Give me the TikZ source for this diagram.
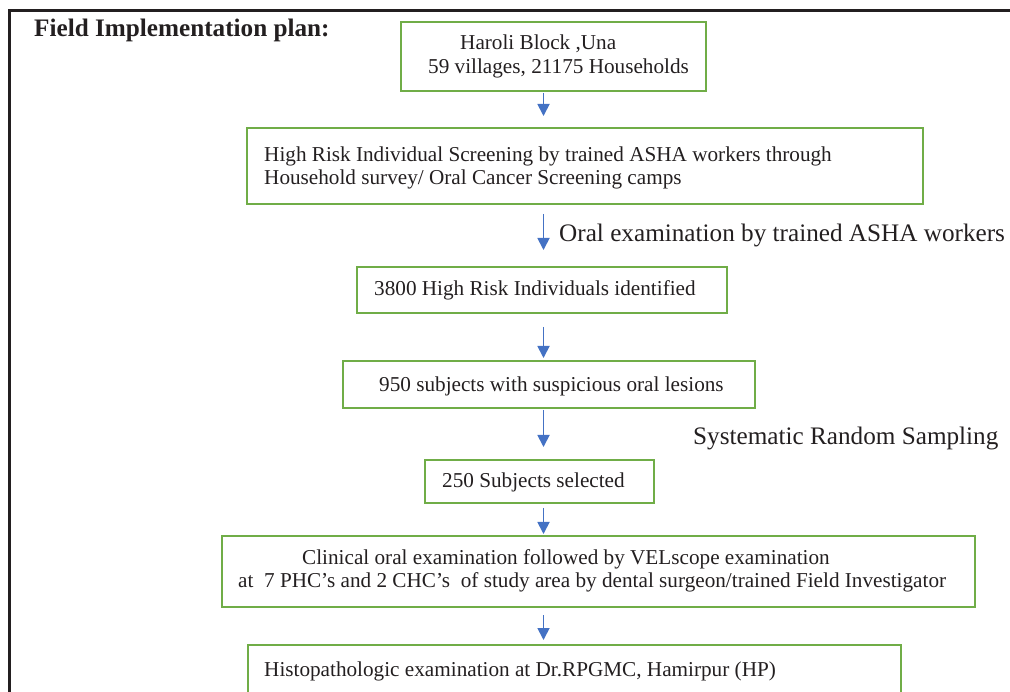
\documentclass[tikz,border=0pt]{standalone}
\usepackage{fontspec}
\setmainfont{Liberation Serif}
\usetikzlibrary{arrows.meta}
\definecolor{gframe}{HTML}{70AD47}
\definecolor{barrow}{HTML}{4472C4}
\definecolor{txt}{HTML}{231F20}
\tikzset{
  gbox/.style={draw=gframe, line width=2.3pt, inner sep=0pt, outer sep=0pt},
  body/.style={anchor=base west, inner sep=0pt, text=txt, font=\fontsize{21.2}{24}\selectfont},
  big/.style={anchor=base west, inner sep=0pt, text=txt, font=\fontsize{25.2}{28}\selectfont},
  flowarrow/.style={draw=barrow, line width=1.8pt, -{Triangle[width=12pt,length=12pt]}},
}
\begin{document}
\begin{tikzpicture}[x=1pt,y=-1pt]
\useasboundingbox (0,0) rectangle (1010,692);
\clip (0,0) rectangle (1010,692);
% frame
\draw[line width=2.5pt, txt] (9.5,700) -- (9.5,10.5) -- (1015,10.5);
\node[anchor=base west, inner sep=0pt, text=txt, font=\fontsize{25.2}{28}\selectfont\bfseries] (title) at (34,37) {Field Implementation plan:};
% boxes
\node[gbox, minimum width=305pt, minimum height=69pt] (b1) at (553.5,56.5) {};
\node[gbox, minimum width=676pt, minimum height=76pt] (b2) at (585,166) {};
\node[gbox, minimum width=370pt, minimum height=46pt] (b3) at (542,290) {};
\node[gbox, minimum width=412pt, minimum height=47pt] (b4) at (549,384.5) {};
\node[gbox, minimum width=229pt, minimum height=43pt] (b5) at (539.5,481.5) {};
\node[gbox, minimum width=753pt, minimum height=71pt] (b6) at (598.5,571.5) {};
\node[gbox, minimum width=653pt, minimum height=70pt] (b7) at (574.5,680) {};
% texts
\node[body] (t1a) at (460,50) {Haroli Block ,Una};
\node[body] (t1b) at (428,74) {59 villages, 21175 Households};
\node[body] (t2a) at (264,162) {High Risk Individual Screening by trained ASHA workers through};
\node[body] (t2b) at (264,185) {Household survey/ Oral Cancer Screening camps};
\node[body] (t3) at (374,296) {3800 High Risk Individuals identified};
\node[body] (t4) at (379,392) {950 subjects with suspicious oral lesions};
\node[body] (t5) at (442,488) {250 Subjects selected};
\node[body] (t6a) at (302,564) {Clinical oral examination followed by VELscope examination};
\node[body] (t6b) at (238,587) {at\ \ 7 PHC’s and 2 CHC’s\ \ of study area by dental surgeon/trained Field Investigator};
\node[body] (t7) at (264,676) {Histopathologic examination at Dr.RPGMC, Hamirpur (HP)};
\node[big] (l1) at (559,242) {Oral examination by trained ASHA workers};
\node[big] (l2) at (693,445) {Systematic Random Sampling};
% arrows
\coordinate (ax) at (543.5,0);
\draw[flowarrow, shorten <=2pt, shorten >=12pt] (b1.south -| ax) -- (b2.north -| ax);
\draw[flowarrow, shorten <=10pt, shorten >=17pt] (b2.south -| ax) -- (b3.north -| ax);
\draw[flowarrow, shorten <=14pt, shorten >=3pt] (b3.south -| ax) -- (b4.north -| ax);
\draw[flowarrow, shorten <=2pt, shorten >=13pt] (b4.south -| ax) -- (b5.north -| ax);
\draw[flowarrow, shorten <=5pt, shorten >=2pt] (b5.south -| ax) -- (b6.north -| ax);
\draw[flowarrow, shorten <=8pt, shorten >=5pt] (b6.south -| ax) -- (b7.north -| ax);
\end{tikzpicture}
\end{document}
